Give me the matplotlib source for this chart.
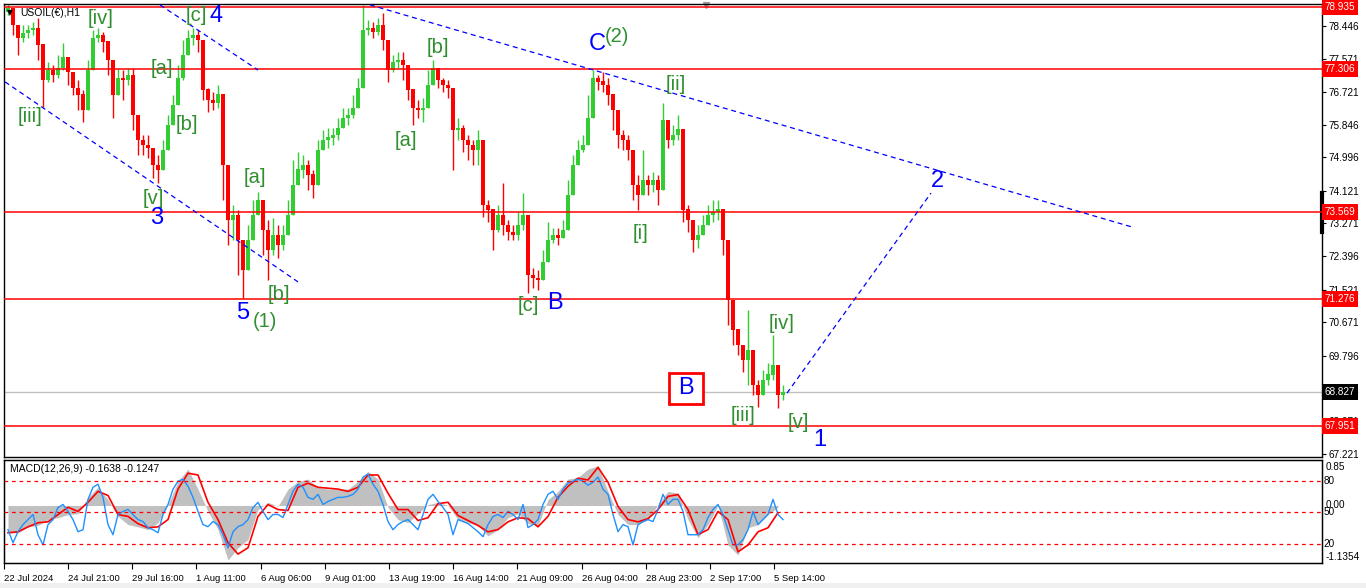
import numpy as np
import matplotlib
matplotlib.use("Agg")
import matplotlib.pyplot as plt
from matplotlib.patches import Rectangle
from matplotlib.transforms import blended_transform_factory

plt.rcParams['font.family'] = ['Liberation Sans', 'DejaVu Sans']

# USOIL(EUR) H1, sampled every few hourly bars: close / high / low
first_open = 78.80
close = [78.92, 78.47, 78.13, 78.26, 78.34, 78.39, 77.95, 77.03, 77.29, 77.16,
         77.34, 77.61, 77.24, 76.82, 76.64, 76.24, 77.29, 78.13, 78.21, 78.03,
         77.55, 76.64, 77.08, 77.03, 77.16, 76.11, 75.45, 75.32, 75.24, 74.80,
         74.67, 75.19, 75.85, 76.37, 77.08, 77.68, 78.13, 78.21, 78.08, 76.77,
         76.50, 76.42, 76.64, 74.80, 73.35, 73.48, 72.83, 72.04, 72.83, 73.48,
         73.88, 73.09, 72.57, 72.96, 72.70, 72.96, 73.48, 74.27, 74.67, 74.80,
         74.54, 74.27, 75.19, 75.45, 75.51, 75.58, 75.77, 76.03, 76.11, 76.29,
         76.82, 78.34, 78.39, 78.29, 78.47, 78.08, 77.29, 77.50, 77.55, 77.42,
         76.77, 76.29, 76.24, 76.29, 76.90, 77.34, 77.03, 76.90, 76.82, 75.72,
         75.77, 75.45, 75.32, 75.19, 75.45, 73.75, 73.62, 73.09, 73.48, 73.22,
         73.04, 72.96, 73.22, 73.48, 71.91, 71.83, 71.78, 72.25, 72.83, 72.96,
         72.88, 73.09, 74.01, 74.80, 75.19, 75.32, 76.03, 77.08, 76.98, 76.90,
         76.64, 76.24, 75.58, 75.45, 75.19, 74.27, 74.01, 74.40, 74.27, 74.40,
         74.14, 75.98, 75.45, 75.58, 75.72, 73.62, 73.35, 72.83, 72.96, 73.22,
         73.48, 73.56, 73.62, 72.83, 71.25, 70.47, 70.07, 69.68, 69.94, 69.02,
         68.76, 69.15, 69.29, 69.55, 68.76, 68.83]
high = [79.05, 78.87, 78.47, 78.47, 78.47, 78.55, 78.66, 77.68, 77.50, 77.42,
        77.68, 78.00, 77.55, 77.16, 77.03, 76.77, 77.55, 78.34, 78.39, 78.29,
        77.95, 77.42, 77.34, 77.29, 77.34, 77.34, 75.85, 75.58, 75.58, 75.19,
        75.06, 75.45, 76.11, 76.64, 77.42, 78.08, 78.34, 78.39, 78.34, 77.95,
        76.82, 76.71, 76.90, 76.24, 73.88, 73.75, 73.62, 72.70, 73.22, 73.88,
        74.09, 73.75, 73.35, 73.41, 73.22, 73.22, 73.88, 74.93, 75.14, 75.06,
        74.93, 74.67, 75.45, 75.72, 75.77, 75.77, 76.03, 76.29, 76.29, 76.64,
        77.08, 79.00, 78.60, 78.55, 78.66, 78.79, 77.95, 77.68, 77.76, 77.76,
        77.16, 76.64, 76.50, 76.56, 77.29, 77.55, 77.24, 77.08, 77.03, 76.37,
        76.03, 75.85, 75.58, 75.45, 75.72, 74.80, 73.88, 73.48, 73.75, 74.32,
        73.35, 73.22, 73.56, 74.06, 72.96, 72.09, 72.04, 72.57, 73.30, 73.14,
        73.14, 73.35, 74.40, 75.06, 75.45, 75.58, 76.64, 77.29, 77.16, 77.24,
        77.08, 76.64, 75.98, 75.72, 75.58, 74.93, 74.54, 75.19, 74.54, 74.61,
        74.54, 76.42, 75.85, 75.85, 76.11, 75.66, 73.75, 73.22, 73.22, 73.48,
        73.75, 73.88, 73.88, 73.62, 72.70, 70.78, 70.47, 70.07, 70.99, 69.68,
        69.15, 69.42, 69.60, 70.34, 69.42, 69.02]
low = [78.73, 78.21, 77.68, 78.03, 78.13, 78.21, 77.55, 76.32, 76.98, 76.98,
       77.08, 77.29, 76.90, 76.64, 76.24, 75.93, 76.50, 77.82, 78.03, 77.76,
       77.16, 76.03, 76.77, 76.50, 76.90, 75.72, 75.06, 75.06, 74.98, 74.46,
       74.32, 74.80, 75.45, 75.98, 76.50, 77.03, 77.87, 77.95, 77.76, 76.50,
       76.19, 76.24, 76.29, 73.88, 72.70, 72.83, 71.91, 71.31, 72.17, 72.96,
       73.48, 72.44, 71.78, 72.44, 72.36, 72.57, 73.04, 73.75, 74.40, 74.46,
       74.14, 73.93, 74.80, 75.19, 75.24, 75.32, 75.45, 75.77, 75.85, 76.03,
       76.50, 77.03, 78.21, 78.13, 78.21, 77.82, 76.98, 77.24, 77.34, 77.03,
       76.50, 75.85, 76.03, 75.93, 76.50, 77.03, 76.82, 76.71, 76.56, 74.67,
       75.45, 75.14, 74.93, 74.80, 74.80, 73.43, 73.30, 72.57, 73.04, 72.96,
       72.83, 72.83, 72.83, 73.09, 71.44, 71.57, 71.52, 71.83, 72.36, 72.75,
       72.70, 72.88, 73.67, 74.40, 74.93, 75.14, 75.51, 76.50, 76.77, 76.71,
       76.37, 75.72, 75.24, 75.19, 74.93, 73.88, 73.62, 74.01, 74.01, 74.09,
       73.75, 75.19, 75.24, 75.32, 75.45, 73.30, 73.04, 72.51, 72.62, 72.96,
       73.22, 73.30, 73.35, 72.44, 70.60, 70.07, 69.81, 69.36, 69.02, 68.76,
       68.45, 68.89, 69.02, 69.15, 68.42, 68.63]

# MACD(12,26,9), one value every second sampled bar
macd_hist = [-0.60, -0.60, -0.47, -0.44, -0.31, -0.27, -0.20, -0.18, 0.18, 0.40,
             0.13, -0.24, -0.42, -0.47, -0.53, -0.38, 0.02, 0.53, 0.80, 0.36,
             -0.13, -0.53, -1.20, -0.93, -0.75, -0.09, 0.07, -0.02, 0.36, 0.53,
             0.58, 0.40, 0.36, 0.36, 0.36, 0.53, 0.75, 0.58, -0.04, -0.31,
             -0.38, -0.18, 0.02, 0.07, 0.00, -0.31, -0.38, -0.44, -0.67, -0.53,
             -0.27, -0.18, -0.40, -0.44, 0.13, 0.31, 0.58, 0.62, 0.80, 0.87,
             0.31, -0.20, -0.42, -0.42, -0.31, 0.02, 0.31, 0.27, -0.31, -0.71,
             -0.42, 0.00, -0.87, -1.09, -0.49, -0.42, -0.20, -0.04]
macd_signal = [-0.60, -0.58, -0.47, -0.38, -0.36, -0.20, -0.04, -0.13, 0.07, 0.31,
               0.22, -0.20, -0.24, -0.40, -0.49, -0.47, -0.31, 0.36, 0.71, 0.67,
               0.07, -0.31, -0.82, -1.07, -0.93, -0.24, 0.02, -0.09, -0.11, 0.40,
               0.49, 0.40, 0.38, 0.36, 0.31, 0.40, 0.67, 0.67, 0.27, -0.09,
               -0.09, -0.33, -0.27, 0.04, 0.07, -0.22, -0.33, -0.44, -0.58, -0.53,
               -0.36, -0.27, -0.29, -0.47, -0.24, 0.18, 0.42, 0.60, 0.56, 0.84,
               0.51, -0.02, -0.31, -0.36, -0.29, -0.09, 0.20, 0.24, -0.09, -0.64,
               -0.53, -0.13, -0.31, -1.02, -0.87, -0.58, -0.49, -0.16]
# blue oscillator drawn on the 0-100 scale (levels 20 / 50 / 80)
osc = [33.5, 21.0, 31.6, 38.4, 43.2, 48.1, 28.7, 19.0, 38.4, 43.2,
       54.8, 57.7, 51.0, 43.2, 31.6, 33.5, 62.6, 74.2, 77.1, 64.5,
       38.4, 28.7, 48.1, 51.0, 52.9, 48.1, 43.2, 41.3, 35.5, 33.5,
       30.6, 48.1, 57.7, 72.3, 80.0, 81.9, 75.2, 64.5, 51.0, 38.4,
       36.4, 41.3, 38.4, 28.7, 16.1, 31.6, 36.4, 38.4, 43.2, 54.8,
       59.7, 51.0, 43.2, 48.1, 48.1, 45.2, 57.7, 70.3, 77.1, 74.2,
       64.5, 62.6, 67.4, 57.7, 60.6, 62.6, 64.5, 64.5, 65.5, 67.4,
       72.3, 83.9, 86.8, 77.1, 70.3, 57.7, 41.3, 33.5, 38.4, 41.3,
       43.2, 38.4, 33.5, 48.1, 62.6, 67.4, 60.6, 54.8, 48.1, 28.7,
       43.2, 41.3, 39.4, 35.5, 31.6, 26.8, 38.4, 46.1, 48.1, 45.2,
       51.0, 48.1, 43.2, 57.7, 35.5, 38.4, 43.2, 57.7, 67.4, 70.3,
       62.6, 72.3, 78.1, 80.0, 81.9, 80.0, 76.1, 79.0, 83.9, 72.3,
       67.4, 48.1, 31.6, 38.4, 36.4, 19.0, 38.4, 41.3, 43.2, 41.3,
       52.9, 67.4, 57.7, 62.6, 62.6, 51.0, 28.7, 28.7, 28.7, 33.5,
       45.2, 52.9, 57.7, 48.1, 33.5, 19.0, 19.0, 23.9, 33.5, 51.0,
       38.4, 43.2, 48.1, 62.6, 48.1, 43.2]
osc_levels = [80, 50, 20]

time_labels = ["22 Jul 2024", "24 Jul 21:00", "29 Jul 16:00", "1 Aug 11:00",
               "6 Aug 06:00", "9 Aug 01:00", "13 Aug 19:00", "16 Aug 14:00",
               "21 Aug 09:00", "26 Aug 04:00", "28 Aug 23:00", "2 Sep 17:00",
               "5 Sep 14:00"]
price_ticks = [78.446, 77.571, 76.721, 75.846, 74.996, 74.121, 73.271, 72.396,
               71.521, 70.671, 69.796, 68.921, 68.071, 67.221]
red_levels = [78.935, 77.306, 73.569, 71.276, 67.951]
last_price = 68.827

# Elliott wave labels: text, bar, price, colour kind
waves = [("[iii]", 4.4, 76.08, "g"), ("[iv]", 18.6, 78.63, "g"),
         ("[c]", 37.6, 78.71, "g"), ("4", 41.6, 78.71, "b"),
         ("[a]", 30.8, 77.34, "g"), ("[b]", 35.8, 75.87, "g"),
         ("[v]", 29.0, 73.93, "g"), ("3", 29.8, 73.41, "b"),
         ("[a]", 49.4, 74.48, "g"), ("[b]", 54.2, 71.41, "g"),
         ("5", 47.0, 70.91, "b"), ("(1)", 51.4, 70.68, "g"),
         ("[b]", 86.0, 77.87, "g"), ("[a]", 79.6, 75.45, "g"),
         ("[c]", 104.0, 71.10, "g"), ("B", 109.4, 71.18, "b"),
         ("C", 117.8, 77.98, "b"), ("(2)", 121.8, 78.16, "g"),
         ("[ii]", 133.6, 76.92, "g"), ("[i]", 126.4, 73.01, "g"),
         ("[iv]", 154.8, 70.65, "g"), ("[iii]", 147.0, 68.21, "g"),
         ("[v]", 158.0, 68.03, "g"), ("1", 162.4, 67.58, "b"),
         ("2", 185.8, 74.38, "b")]
boxed_label = ("B", 135.6, 68.94)

# trend lines (bar, price) -> (bar, price)
trend_lines = [((-0.6, 76.98), (58.0, 71.73)),
               ((30.4, 79.00), (50.0, 77.29)),
               ((72.4, 79.00), (224.8, 73.17)),
               ((155.8, 68.81), (184.6, 74.06))]

W, H = 1366, 588
def px_rect(x0, y0, x1, y1):
    return [x0 / W, 1 - y1 / H, (x1 - x0) / W, (y1 - y0) / H]

fig = plt.figure(figsize=(W / 100, H / 100), dpi=100, facecolor='white')
fig.patches.append(Rectangle((0, 0), 1, 5 / H, transform=fig.transFigure,
                             facecolor='#f0f0f0', edgecolor='none'))
ax = fig.add_axes(px_rect(4, 4, 1322, 457))
axm = fig.add_axes(px_rect(4, 460, 1322, 563))

xlim = (-0.8, 262.8)

# candles
close = np.array(close)
opens = np.r_[first_open, close[:-1]]
high = np.maximum(np.array(high), np.maximum(opens, close))
low = np.minimum(np.array(low), np.minimum(opens, close))
xs = np.arange(len(close))
cols = np.where(close >= opens, '#32cd32', '#ff0000')
ax.vlines(xs, low, high, colors=cols, lw=1, zorder=2)
ax.bar(xs, np.abs(close - opens) + 0.01, bottom=np.minimum(opens, close),
       width=0.75, color=cols, lw=0, zorder=2)

for lv in red_levels:
    ax.axhline(lv, color='#ff0000', lw=1.1, zorder=3)
ax.axhline(last_price, color='#c0c0c0', lw=1, zorder=1)

for (x0, y0), (x1, y1) in trend_lines:
    ax.plot([x0, x1], [y0, y1], color='#0000ff', lw=0.9,
            linestyle=(0, (4, 3)), zorder=3)

for txt, bx, pr, kind in waves:
    if kind == "b":
        ax.text(bx, pr, txt, color='#0000ff', fontsize=17, ha='center', va='center', zorder=5)
    else:
        ax.text(bx, pr, txt, color='#2f8f2f', fontsize=14.5, ha='center', va='center', zorder=5)

bt, bx, pr = boxed_label
ax.add_patch(Rectangle((bx - 3.4, pr - 0.405), 6.8, 0.81, facecolor='white',
                       edgecolor='#ff0000', lw=2, zorder=4))
ax.text(bx, pr, bt, color='#0000ff', fontsize=17, ha='center', va='center', zorder=5)

ax.set_xlim(*xlim)
ax.set_ylim(67.133, 79.023)
ax.set_xticks([])
ax.yaxis.tick_right()
ax.set_yticks(price_ticks)
ax.set_yticklabels([f"{t:.3f}" for t in price_ticks])
ax.tick_params(axis='y', direction='out', length=3, pad=2, labelsize=7.2)
for sp in ax.spines.values():
    sp.set_color('black')
    sp.set_linewidth(1)

trans = blended_transform_factory(ax.transAxes, ax.transData)
for lv in red_levels:
    ax.text(1.002, lv, f"{lv:.3f}", transform=trans, ha='left', va='center',
            fontsize=7.2, color='white', zorder=6,
            bbox=dict(boxstyle='square,pad=0.3', facecolor='#ff0000', edgecolor='none'))
ax.text(1.002, last_price, f"{last_price:.3f}", transform=trans, ha='left', va='center',
        fontsize=7.2, color='white', zorder=6,
        bbox=dict(boxstyle='square,pad=0.3', facecolor='black', edgecolor='none'))
ax.plot([1.0, 1.0], [74.06, 73.04], transform=trans, color='black', lw=3, clip_on=False)
ax.plot([139.6], [78.99], marker='v', color='#a0a0a0', markersize=5, clip_on=False)

fig.text(10 / W, 1 - 13 / H, "\u25bc", fontsize=5.5, ha='center', va='center',
         family=['DejaVu Sans'])
fig.text(20 / W, 1 - 13 / H, "USOIL(\u20ac),H1", fontsize=7.5, ha='left', va='center')

# MACD panel
xm = np.arange(len(macd_hist)) * 2
axm.fill_between(xm, 0, macd_hist, color='#c0c0c0', lw=0, zorder=1)
axm.plot(xm, macd_signal, color='#ff0000', lw=1.2, zorder=3)
axm.set_xlim(*xlim)
axm.set_ylim(-1.265, 1.0)
axm.set_yticks([])
for sp in axm.spines.values():
    sp.set_color('black')
    sp.set_linewidth(1)

axo = axm.twinx()
axo.plot(np.arange(len(osc)), osc, color='#1e90ff', lw=1, zorder=2)
for lv in osc_levels:
    axo.axhline(lv, color='#ff0000', lw=0.9, linestyle=(0, (3, 3)))
axo.set_ylim(1.6, 100.3)
axo.set_yticks([])
axo.set_xlim(*xlim)

tick_pos = np.r_[-0.8, 12 + 12.84 * np.arange(len(time_labels) - 1)]
axm.set_xticks(tick_pos)
axm.set_xticklabels(time_labels, ha='left')
axm.tick_params(axis='x', direction='out', length=4, pad=4, labelsize=6.8)

tm = blended_transform_factory(axm.transAxes, axm.transData)
for v, s in [(0.85, "0.85"), (0.0, "0.00"), (-1.1354, "-1.1354")]:
    axm.text(1.003, v, s, transform=tm, ha='left', va='center', fontsize=7.2)
to = blended_transform_factory(axo.transAxes, axo.transData)
for lv in osc_levels:
    axo.text(1.001, lv, str(lv), transform=to, ha='left', va='center', fontsize=7.2)
fig.text(10 / W, 1 - 469 / H, "MACD(12,26,9) -0.1638 -0.1247", fontsize=7.5,
         ha='left', va='center')

fig.savefig('out.png', dpi=100)
